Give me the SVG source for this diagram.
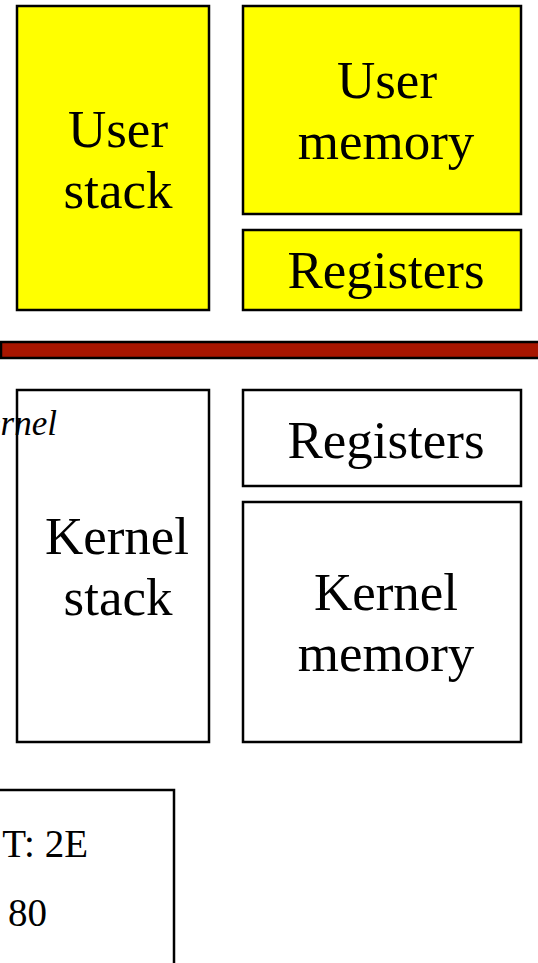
<svg xmlns="http://www.w3.org/2000/svg" width="538" height="963" viewBox="0 0 538 963">
<style>
.box{stroke:#000;stroke-width:2.5}
.y{fill:#ffff00}
.w{fill:#fff}
.t{font-family:"Liberation Serif","Times New Roman",serif;font-size:53px;fill:#000;text-anchor:middle}
.s{font-family:"Liberation Serif","Times New Roman",serif;font-size:39px;fill:#000}
</style>
<rect width="538" height="963" fill="#fff"/>
<g id="user-stack"><rect class="box y" x="17" y="6" width="192" height="304"/><text class="t" x="118" y="147">User</text><text class="t" x="118" y="208">stack</text></g>
<g id="user-memory"><rect class="box y" x="243" y="6" width="278" height="208"/><text class="t" x="387" y="98">User</text><text class="t" x="386" y="159">memory</text></g>
<g id="user-registers"><rect class="box y" x="243" y="230" width="278" height="80"/><text class="t" x="386" y="288">Registers</text></g>
<g id="divider"><rect x="1" y="342" width="545" height="16" fill="#a81500" stroke="#000" stroke-width="2.5"/></g>
<g id="kernel-stack"><rect class="box w" x="17" y="390" width="192" height="352"/><text class="t" x="117" y="554">Kernel</text><text class="t" x="118" y="615">stack</text></g>
<g id="kernel-label"><text x="57" y="435" font-family="Liberation Serif,serif" font-style="italic" font-size="35" text-anchor="end">Kernel</text></g>
<g id="kernel-registers"><rect class="box w" x="243" y="390" width="278" height="96"/><text class="t" x="386" y="458">Registers</text></g>
<g id="kernel-memory"><rect class="box w" x="243" y="502" width="278" height="240"/><text class="t" x="386" y="610">Kernel</text><text class="t" x="386" y="671">memory</text></g>
<g id="info-box"><rect class="box w" x="-10" y="790" width="184" height="200"/><text class="s" x="88" y="857" text-anchor="end">T: 2E</text><text class="s" x="8" y="926">80</text></g>
<g id="connectors"></g>
</svg>
